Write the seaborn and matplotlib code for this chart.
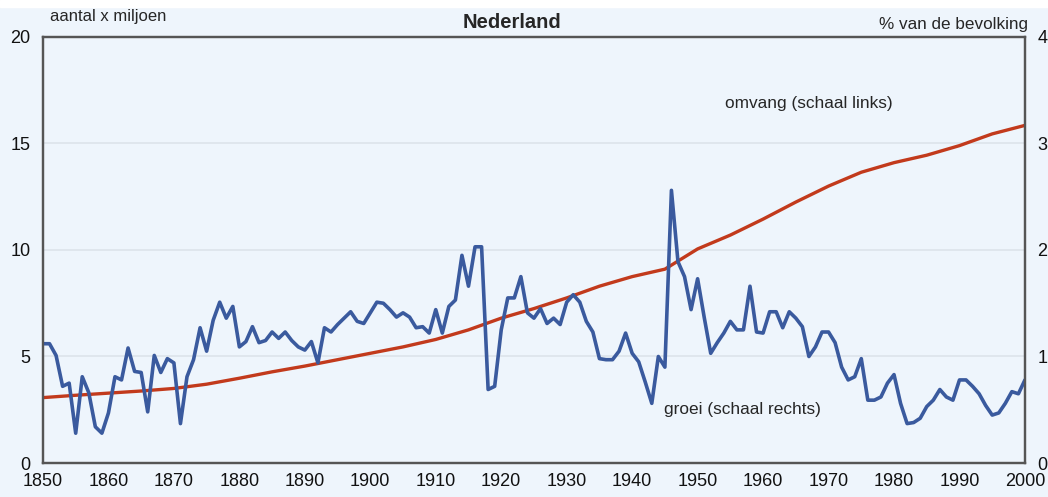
import numpy as np
import pandas as pd
import matplotlib
matplotlib.use("Agg")
import matplotlib.pyplot as plt
import seaborn as sns

# population size, millions (left axis), read every 5 years
pop_years = [1850, 1855, 1860, 1865, 1870, 1875, 1880, 1885, 1890, 1895,
             1900, 1905, 1910, 1915, 1920, 1925, 1930, 1935, 1940, 1945,
             1950, 1955, 1960, 1965, 1970, 1975, 1980, 1985, 1990, 1995, 2000]
pop_millions = [3.07, 3.18, 3.28, 3.38, 3.50, 3.70, 3.98, 4.28, 4.55, 4.85,
                5.15, 5.45, 5.80, 6.25, 6.80, 7.25, 7.75, 8.30, 8.75, 9.10,
                10.05, 10.70, 11.45, 12.25, 13.00, 13.65, 14.10, 14.45, 14.90, 15.45, 15.85]

# annual growth, % of population (right axis)
growth_years = list(range(1850, 2001))
growth_pct = [
    1.12, 1.12, 1.01, 0.72, 0.75, 0.28, 0.81, 0.66, 0.34, 0.28,  # 1850s
    0.47, 0.81, 0.78, 1.08, 0.86, 0.85, 0.48, 1.01, 0.85, 0.98,  # 1860s
    0.94, 0.37, 0.81, 0.97, 1.27, 1.05, 1.34, 1.51, 1.36, 1.47,  # 1870s
    1.09, 1.14, 1.28, 1.13, 1.15, 1.23, 1.17, 1.23, 1.15, 1.09,  # 1880s
    1.06, 1.14, 0.94, 1.27, 1.23, 1.30, 1.36, 1.42, 1.33, 1.31,  # 1890s
    1.41, 1.51, 1.50, 1.44, 1.37, 1.41, 1.37, 1.27, 1.28, 1.22,  # 1900s
    1.44, 1.22, 1.47, 1.53, 1.95, 1.66, 2.03, 2.03, 0.69, 0.72,  # 1910s
    1.25, 1.55, 1.55, 1.75, 1.41, 1.36, 1.45, 1.31, 1.36, 1.30,  # 1920s
    1.51, 1.58, 1.51, 1.33, 1.23, 0.98, 0.97, 0.97, 1.05, 1.22,  # 1930s
    1.03, 0.95, 0.76, 0.56, 1.00, 0.90, 2.56, 1.89, 1.75, 1.44,  # 1940s
    1.73, 1.37, 1.03, 1.13, 1.22, 1.33, 1.25, 1.25, 1.66, 1.23,  # 1950s
    1.22, 1.42, 1.42, 1.27, 1.42, 1.36, 1.28, 1.00, 1.09, 1.23,  # 1960s
    1.23, 1.13, 0.90, 0.78, 0.81, 0.98, 0.59, 0.59, 0.62, 0.75,  # 1970s
    0.83, 0.56, 0.37, 0.38, 0.42, 0.53, 0.59, 0.69, 0.62, 0.59,  # 1980s
    0.78, 0.78, 0.72, 0.65, 0.54, 0.45, 0.47, 0.56, 0.67, 0.65,  # 1990s
    0.78,                                                        # 2000
]

pop = pd.DataFrame({"jaar": pop_years, "omvang": pop_millions})
groei = pd.DataFrame({"jaar": growth_years, "groei": growth_pct})

sns.set_style("white")
plt.rcParams["font.family"] = ["Liberation Sans", "DejaVu Sans"]

bg = "#eef5fc"
fig = plt.figure(figsize=(10.48, 4.97), dpi=100, facecolor=bg)
ax = fig.add_axes([0.041, 0.0684, 0.937, 0.8572])
ax.set_facecolor(bg)
ax2 = ax.twinx()

sns.lineplot(data=pop, x="jaar", y="omvang", ax=ax, color="#c23a1c", lw=2.4)
sns.lineplot(data=groei, x="jaar", y="groei", ax=ax2, color="#3a5a9e", lw=2.6)

ax.set_xlim(1850, 2000)
ax.set_ylim(0, 20)
ax2.set_ylim(0, 4)
ax.set_xticks(range(1850, 2001, 10))
ax.set_yticks([0, 5, 10, 15, 20])
ax2.set_yticks([0, 1, 2, 3, 4])
ax.set_xlabel("")
ax.set_ylabel("")
ax2.set_ylabel("")

ax.grid(axis="y", color="#dde3ea", lw=1.2)
ax.set_axisbelow(True)
for a in (ax, ax2):
    for s in a.spines.values():
        s.set_color("#555555")
        s.set_linewidth(1.6)

ax.tick_params(axis="x", length=0, pad=7, labelsize=13, labelcolor="#111111")
ax.tick_params(axis="y", length=0, pad=9, labelsize=13, labelcolor="#111111")
ax2.tick_params(axis="y", length=0, pad=9, labelsize=13, labelcolor="#111111")

fig.text(0.489, 0.955, "Nederland", ha="center", va="center",
         fontsize=14.5, fontweight="bold")
fig.text(0.048, 0.966, "aantal x miljoen", ha="left", va="center", fontsize=12)
fig.text(0.981, 0.950, "% van de bevolking", ha="right", va="center", fontsize=12.3)
ax.text(1954.2, 16.9, "omvang (schaal links)", ha="left", va="center", fontsize=12.4)
ax.text(1944.9, 2.49, "groei (schaal rechts)", ha="left", va="center", fontsize=12.4)

# white strip along the top edge
fig.patches.append(plt.Rectangle((0, 0.985), 1, 0.015, transform=fig.transFigure,
                                 color="white", zorder=-1))

fig.savefig("out.png", dpi=100, facecolor=bg)
